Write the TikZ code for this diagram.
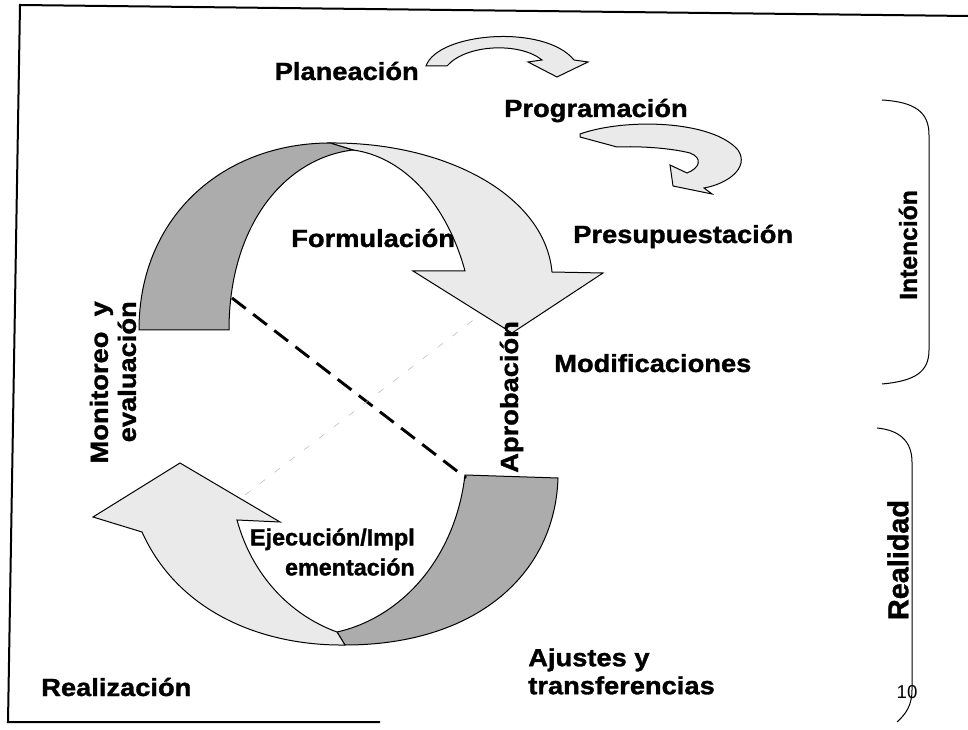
\documentclass[tikz,border=0pt]{standalone}
\usepackage{fontspec}
\usepackage{tikz}
\usetikzlibrary{positioning}
\newfontfamily\lblfont[FakeStretch=1.1,FakeBold=1.3]{Liberation Sans}
\newfontfamily\plainfont[FakeBold=1.3]{Liberation Sans}
\newfontfamily\sidefont{Liberation Sans}

\begin{document}
\begin{tikzpicture}[x=0.75pt,y=0.75pt,yscale=-1,xscale=1,
  lbl/.style={inner sep=0.75pt, font=\lblfont\bfseries\fontsize{18.6}{21}\selectfont},
  backband/.style={draw={rgb, 255:red, 0; green, 0; blue, 0 }, line width=0.75, fill={rgb, 255:red, 172; green, 172; blue, 172 }},
  frontband/.style={draw={rgb, 255:red, 0; green, 0; blue, 0 }, line width=0.75, fill={rgb, 255:red, 234; green, 234; blue, 234 }}]
\useasboundingbox (0,0) rectangle (968,730);

%Straight Lines [id:da5120937446183]
\draw [line width=1.5]  (968,16) -- (20,5) -- (8,722) -- (380,722) ;

%Shape: Polygon Curved [id:ds7731052648119]
\draw [frontband]  (426,66) .. controls (438,32) and (545,24) .. (574,60) -- (588,62) -- (557,77) -- (528,62) -- (542,60) .. controls (520,42) and (466,44) .. (447,66) -- cycle ;
%Shape: Polygon Curved [id:ds2286410973351]
\draw [frontband]  (580,134) .. controls (625,118) and (712,120) .. (738,150) .. controls (750,168) and (727,184) .. (704,188) -- (712,194) -- (673,186) -- (670,165) -- (687,173) .. controls (700,168) and (703,158) .. (690,153) .. controls (670,148) and (640,146) .. (617,147) -- (580,137) -- cycle ;

%Shape: Polygon Curved [id:ds9410326675502]
\draw [frontband]  (330,143) .. controls (445,142) and (545,195) .. (552,272) -- (603,273) -- (512,333) -- (413,271) -- (465,271) .. controls (447,205) and (405,157) .. (353,150) -- cycle ;
%Shape: Polygon Curved [id:ds0358194471260]
\draw [backband]  (139,330) .. controls (139,215) and (225,143) .. (330,143) -- (353,150) .. controls (285,158) and (229,225) .. (229,330) -- cycle ;

%Shape: Polygon Curved [id:ds6612839904417]
\draw [backband]  (465,475) -- (558,478) .. controls (555,575) and (475,645) .. (345,645) -- (337,632) .. controls (400,618) and (455,560) .. (465,475) -- cycle ;
%Shape: Polygon Curved [id:ds4483170925536]
\draw [frontband]  (237,520) -- (280,522) -- (180,463) -- (93,517) -- (142,532) .. controls (178,612) and (262,646) .. (345,645) -- (337,632) .. controls (290,615) and (252,575) .. (237,520) -- cycle ;

%Straight Lines [id:da3390175826614]
\coordinate (dashA) at (232,298) ;
\coordinate (dashB) at (466,478) ;
\draw [line width=2.2, dash pattern={on 13pt off 7pt}]  (dashA) -- (dashB) ;
%Straight Lines [id:da8802461193570]
\coordinate (faintA) at (245,495) ;
\coordinate (faintB) at (476,318) ;
\draw [color={rgb, 255:red, 185; green, 185; blue, 185 }, line width=0.4, dash pattern={on 5pt off 9pt}]  (faintA) -- (faintB) ;

%Curve Lines [id:da1147205983362]
\draw [line width=0.75]  (882,100) .. controls (915,102) and (929,112) .. (929,135) -- (929,350) .. controls (929,372) and (915,381) .. (882,384) ;
%Curve Lines [id:da6605831749120]
\draw [line width=0.75]  (877,428) .. controls (898,430) and (912,440) .. (912,462) -- (912,690) .. controls (912,705) and (906,714) .. (897,722) ;

% Text Node
\node [lbl, anchor=base east] (plan) at (420,80) {Planeación};
% Text Node
\node [lbl, anchor=base west] (prog) at (503,117) {Programación};
% Text Node
\node [lbl, anchor=base west] (presu) at (572,243) {Presupuestación};
% Text Node
\node [lbl, anchor=base west] (formu) at (290,247) {Formulación};
% Text Node
\node [lbl, anchor=base west] (modif) at (553,372) {Modificaciones};
% Text Node
\node [lbl, anchor=base west, rotate=90] (aprob) at (518,474) {Aprobación};
% Text Node
\node [lbl, anchor=east, rotate=90, align=right] (monit) at (113,300) {Monitoreo\ \ y\\evaluación};
% Text Node
\node [lbl, anchor=north east, align=right, font=\plainfont\bfseries\fontsize{17.5}{22.5}\selectfont] (ejec) at (416,527) {Ejecución/Impl\\ementación};
% Text Node
\node [lbl, anchor=base west] (realiz) at (40,696) {Realización};
% Text Node
\node [lbl, anchor=north west, align=left] (ajust) at (527,647) {Ajustes y\\transferencias};
% Text Node
\node [inner sep=0.75pt, rotate=90, font=\plainfont\bfseries\fontsize{18.5}{22}\selectfont] (inten) at (908,245) {Intención};
% Text Node
\node [inner sep=0.75pt, rotate=90, font=\plainfont\bfseries\fontsize{21.6}{26}\selectfont] (realid) at (898,560) {Realidad};
% Text Node
\node [inner sep=0.75pt, font=\sidefont\fontsize{14}{16}\selectfont] (pagina) at (907,692) {10};

\end{tikzpicture}
\end{document}
